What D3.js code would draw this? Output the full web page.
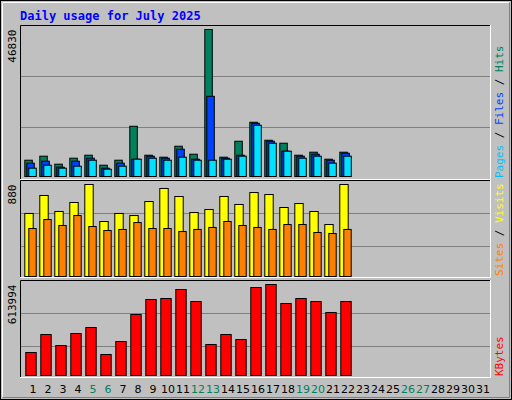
<!DOCTYPE html><html><head><meta charset="utf-8">
<script src="https://cdn.jsdelivr.net/npm/d3@7"></script>
<style>body{margin:0;background:#fff}</style></head><body><svg id="c" width="512" height="400"></svg>
<script>
const days = d3.range(1,32);
const weekend = [5,6,12,13,19,20,26,27];
const hits  = [5190,6470,3920,5830,6780,3600,5190,16000,6780,6150,9640,7100,46830,6150,11230,17280,11550,10600,6780,7740,5510,7740];
const files = [4240,4880,2970,4880,5830,2650,4240,5510,6470,5830,8690,5510,25540,5830,6780,16960,11230,8060,6470,7100,5190,7420];
const pages = [2650,3600,2650,3290,5190,2330,3290,5510,5830,5190,6150,5190,5190,5510,6470,16320,10600,8060,5830,6470,4240,6470];
const visits= [603,775,622,708,880,526,603,583,717,842,765,612,641,765,689,803,784,660,698,622,497,880];
const sites = [459,545,488,583,478,440,450,516,459,459,430,450,469,526,488,469,450,497,497,421,411,450];
const kbytes= [155200,276600,202400,283400,323900,141700,229400,411600,512800,519500,580200,499300,209200,276600,242900,593700,613994,485800,519500,499300,425100,499300];
const maxLabels = ["46830","880","613994"];

const svg = d3.select("#c");
const font = "'DejaVu Sans Mono', monospace";
svg.append("rect").attr("x",0.5).attr("y",0.5).attr("width",511).attr("height",399).attr("fill","#C0C0C0").attr("stroke","#000");
svg.append("path").attr("d","M2.5,397.5V2.5H509.5").attr("fill","none").attr("stroke","#fff");
svg.append("path").attr("d","M2.5,397.5H509.5V2.5").attr("fill","none").attr("stroke","#808080");
svg.append("text").attr("x",20).attr("y",20).attr("fill","#0000FF").attr("font-family",font).attr("font-weight","bold").attr("font-size",12).text("Daily usage for July 2025");

const x = d3.scaleBand().domain(days).range([20,485]);
const L = 20, R = 491;
const panels = [
  {top:25,bot:180,base:176.5,topv:29.5,max:46830,grids:[76.5,127.5],
   series:[{d:hits,c:"#00805C",o:5.3,w:7.5},{d:files,c:"#0040FF",o:7.3,w:7.5},{d:pages,c:"#00E0FF",o:9.3,w:7.5}],
   labels:[["Pages","#00C0FF"],[" / ","#000"],["Files","#0040FF"],[" / ","#000"],["Hits","#00805C"]]},
  {top:180,bot:278,base:276.5,topv:184.5,max:880,grids:[213.5,246.5],
   series:[{d:visits,c:"#FFFF00",o:5.3,w:8.4},{d:sites,c:"#FF8000",o:9.3,w:7.4}],
   labels:[["Sites","#FF8000"],[" / ","#000"],["Visits","#FFFF00"]]},
  {top:280,bot:378,base:375.5,topv:284.5,max:613994,grids:[313.5,346.5],
   series:[{d:kbytes,c:"#FF0000",o:6.3,w:10.4}],
   labels:[["KBytes","#FF0000"]]}
];
panels.forEach((p,i)=>{
  const g = svg.append("g");
  g.append("rect").attr("x",L).attr("y",p.top).attr("width",R-L).attr("height",p.bot-p.top).attr("fill","#C0C0C0");
  g.append("path").attr("d",`M${L+0.5},${p.bot}V${p.top+0.5}H${R}`).attr("fill","none").attr("stroke","#000");
  g.append("path").attr("d",`M${L},${p.bot-0.5}H${R-0.5}V${p.top}`).attr("fill","none").attr("stroke","#fff");
  p.grids.forEach(gy=>g.append("line").attr("x1",L+1).attr("x2",R-1).attr("y1",gy).attr("y2",gy).attr("stroke","#808080"));
  const y = d3.scaleLinear().domain([0,p.max]).range([p.base,p.topv]);
  p.series.forEach(s=>{
    g.selectAll(null).data(s.d).join("rect")
      .attr("x",(v,j)=>x(j+1)+s.o-0.5).attr("width",s.w)
      .attr("y",v=>y(v)).attr("height",v=>p.base-y(v))
      .attr("fill",s.c).attr("stroke","#000").attr("stroke-width",1);
  });
  g.append("text").attr("transform",`translate(16,${p.topv}) rotate(-90)`).attr("text-anchor","end")
    .attr("font-family",font).attr("font-size",11).attr("fill","#000").text(maxLabels[i]);
  const t = g.append("text").attr("transform",`translate(503,${p.bot-2}) rotate(-90)`)
    .attr("font-family",font).attr("font-size",11);
  p.labels.forEach(l=>t.append("tspan").attr("fill",l[1]).text(l[0]));
});
svg.selectAll(".day").data(days).join("text")
  .attr("x",d=>x(d)+x.bandwidth()/2+5.5).attr("y",393).attr("text-anchor","middle")
  .attr("font-family","'DejaVu Sans', sans-serif").attr("font-size",11)
  .attr("fill",d=>weekend.includes(d)?"#00805C":"#000").text(d=>d);
</script></body></html>
